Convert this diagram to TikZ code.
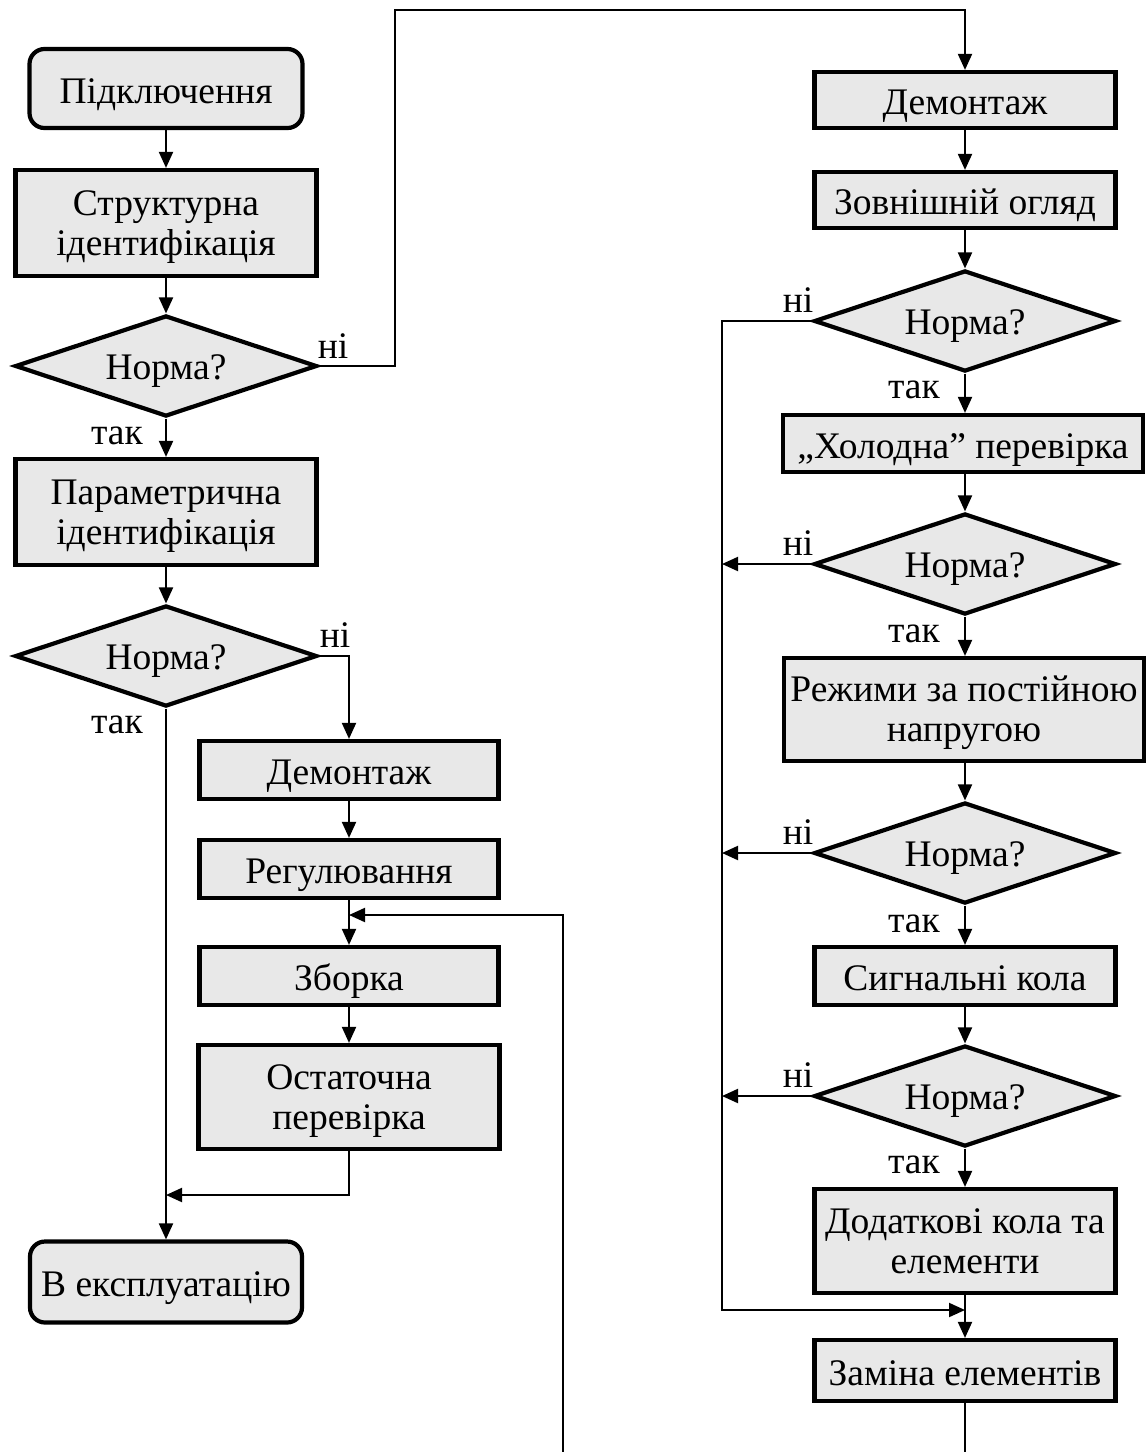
\documentclass[tikz,border=0pt]{standalone}
\usepackage{fontspec}
\setmainfont{Liberation Serif}
\usetikzlibrary{shapes.geometric,arrows.meta}
\definecolor{boxfill}{RGB}{232,232,232}
\begin{document}
\begin{tikzpicture}[x=1pt,y=-1pt,
  font=\fontsize{37.5}{40}\selectfont,
  proc/.style={draw, line width=4.2pt, fill=boxfill, align=center, inner sep=0pt,
               text height=29pt, text depth=0pt},
  twoline/.style={text height=64pt, text depth=0pt},
  term/.style={proc, rounded corners=15pt},
  dec/.style={diamond, aspect=3, draw, line width=4.2pt, fill=boxfill, inner sep=0pt,
              text height=26pt, text depth=0pt,
              minimum width=302pt, minimum height=101pt},
  conn/.style={line width=2pt},
  arr/.style={conn, -{Triangle[length=16pt,width=14pt]}},
  lbl/.style={inner sep=0pt, anchor=base}
]
\useasboundingbox (0,0) rectangle (1148,1452);

% ---------- left column ----------
\node[term, minimum width=273pt, minimum height=79pt] (p1) at (166,88.5) {Підключення};
\node[proc, twoline, minimum width=301pt, minimum height=106pt] (s1) at (166,223) {Структурна\\ідентифікація};
\node[dec] (d1) at (166,366) {Норма?};
\node[proc, twoline, minimum width=301pt, minimum height=106pt] (p2) at (166,512) {Параметрична\\ідентифікація};
\node[dec] (d2) at (166,656) {Норма?};
\node[proc, minimum width=299pt, minimum height=58pt] (dm1) at (349,770) {Демонтаж};
\node[proc, minimum width=299pt, minimum height=58pt] (rg) at (349,869) {Регулювання};
\node[proc, minimum width=299pt, minimum height=58pt] (zb) at (349,976) {Зборка};
\node[proc, twoline, minimum width=301pt, minimum height=104pt] (os) at (349,1097) {Остаточна\\перевірка};
\node[term, minimum width=272pt, minimum height=81pt] (ex) at (166,1282) {В експлуатацію};

% ---------- right column ----------
\node[proc, minimum width=301pt, minimum height=56pt] (dm2) at (965,100) {Демонтаж};
\node[proc, minimum width=301pt, minimum height=56pt] (zv) at (965,200) {Зовнішній огляд};
\node[dec] (d3) at (965,321) {Норма?};
\node[proc, minimum width=360pt, minimum height=57pt] (hl) at (963,443.5) {„Холодна” перевірка};
\node[dec] (d4) at (965,564) {Норма?};
\node[proc, twoline, minimum width=360pt, minimum height=103pt] (rj) at (964,709.5) {Режими за постійною\\напругою};
\node[dec] (d5) at (965,853) {Норма?};
\node[proc, minimum width=301pt, minimum height=58pt] (sg) at (965,976) {Сигнальні кола};
\node[dec] (d6) at (965,1096) {Норма?};
\node[proc, twoline, minimum width=301pt, minimum height=104pt] (dd) at (965,1241) {Додаткові кола та\\елементи};
\node[proc, minimum width=301pt, minimum height=61pt] (zm) at (965,1370.5) {Заміна елементів};

% ---------- labels ----------
\node[lbl] (n1) at (333,358) {ні};
\node[lbl] (y1) at (117,444) {так};
\node[lbl] (n2) at (335,647) {ні};
\node[lbl] (y2) at (117,733) {так};
\node[lbl] (n3) at (798,312) {ні};
\node[lbl] (y3) at (914,398) {так};
\node[lbl] (n4) at (798,555) {ні};
\node[lbl] (y4) at (914,642) {так};
\node[lbl] (n5) at (798,844) {ні};
\node[lbl] (y5) at (914,932) {так};
\node[lbl] (n6) at (798,1087) {ні};
\node[lbl] (y6) at (914,1173) {так};

% ---------- coordinates ----------
\coordinate (t1) at (395,10);
\coordinate (r1) at (563,1452);
\coordinate (r1t) at (563,915);
\coordinate (m1) at (166,1195);
\coordinate (lt) at (722,321);
\coordinate (lb) at (722,1310);
\coordinate (bend) at (965,1452);

% ---------- left connectors ----------
\draw[arr] (p1) -- (s1);
\draw[arr] (s1) -- (d1);
\draw[arr] (d1) -- (p2);
\draw[arr] (p2) -- (d2);
\draw[arr] (d1.east) -| (t1) -| (dm2.north);
\draw[arr] (d2.east) -| (dm1.north);
\draw[arr] (d2.south) -- (ex.north);
\draw[arr] (dm1) -- (rg);
\draw[arr] (rg) -- (zb);
\draw[arr] (zb) -- (os);
\draw[arr] (r1) -- (r1t) -- (rg.south |- r1t);
\draw[arr] (os.south) |- (m1);

% ---------- right connectors ----------
\draw[arr] (dm2) -- (zv);
\draw[arr] (zv) -- (d3);
\draw[arr] (d3) -- (hl.north -| d3.south);
\draw[arr] (hl.south -| d4.north) -- (d4);
\draw[arr] (d4) -- (rj.north -| d4.south);
\draw[arr] (rj.south -| d5.north) -- (d5);
\draw[arr] (d5) -- (sg);
\draw[arr] (sg) -- (d6);
\draw[arr] (d6) -- (dd);
\draw[arr] (dd) -- (zm);
\draw[conn] (zm.south) -- (bend);
\draw[arr] (d3.west) -- (lt) -- (lb) -- (lb -| zm.north);
\draw[arr] (d4.west) -- (d4.west -| lt);
\draw[arr] (d5.west) -- (d5.west -| lt);
\draw[arr] (d6.west) -- (d6.west -| lt);
\end{tikzpicture}
\end{document}
